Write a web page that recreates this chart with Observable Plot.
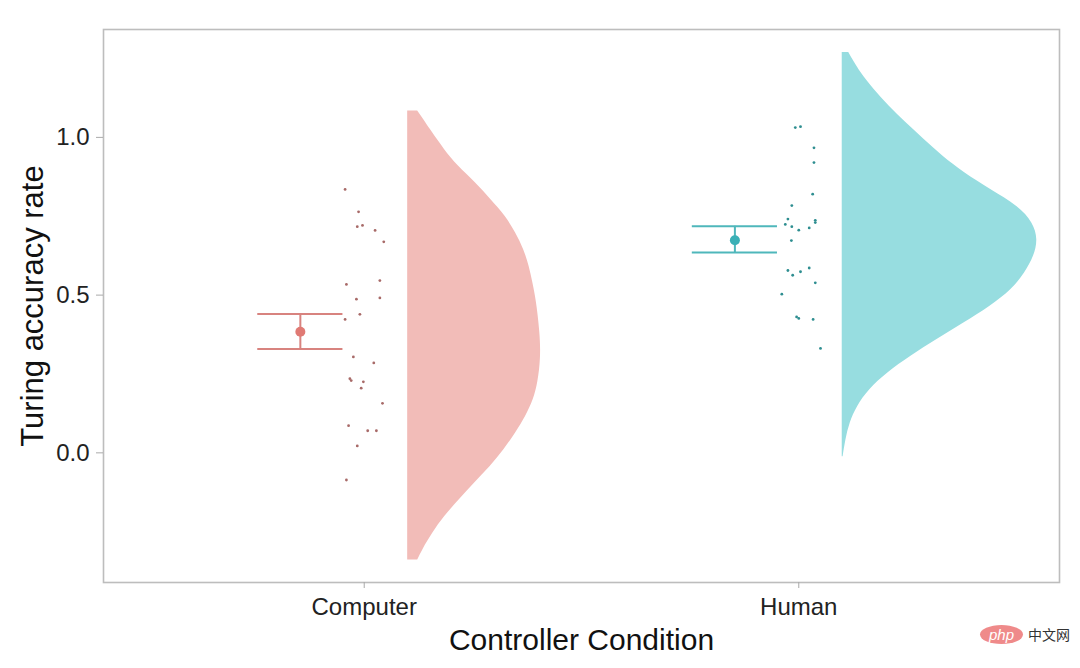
<!DOCTYPE html>
<html>
<head>
<meta charset="utf-8">
<script src="https://cdn.jsdelivr.net/npm/d3@7"></script>
<script src="https://cdn.jsdelivr.net/npm/@observablehq/plot@0.6"></script>
<style>
  html, body { margin: 0; padding: 0; background: #fff; }
  #wrap { position: relative; width: 1080px; height: 668px; }
  #wm { position: absolute; left: 980px; top: 624px; display: flex; align-items: center; font-family: "Noto Sans CJK SC", sans-serif; }
  #wm .logo { width: 43px; height: 19px; border-radius: 50%; background: #ef8a8a; color: #fff; font: italic 15px "Liberation Sans", Arial, sans-serif; display: flex; align-items: center; justify-content: center; }
  #wm .cn { margin-left: 5px; font-size: 14px; color: #333; }
</style>
</head>
<body>
<div id="wrap"><div id="chart"></div><div id="wm"><span class="logo">php</span><span class="cn">中文网</span></div></div>
<script>
const categories = ["Computer", "Human"];
const yTicks = [0, 0.5, 1.0];

// individual participant accuracy rates and horizontal jitter
const computerValues = [0.835, 0.764, 0.717, 0.721, 0.705, 0.669, 0.534, 0.546, 0.487, 0.491, 0.439, 0.423,
  0.304, 0.285, 0.235, 0.229, 0.225, 0.205, 0.157, 0.086, 0.070, 0.070, 0.022, -0.086];
const computerJitter = [-0.044, -0.013, -0.016, -0.004, 0.025, 0.045, -0.041, 0.036, -0.018, 0.036, -0.010, -0.044,
  -0.025, 0.022, -0.033, -0.030, -0.002, -0.007, 0.042, -0.036, 0.008, 0.028, -0.016, -0.041];
const humanValues = [1.031, 1.034, 0.967, 0.920, 0.820, 0.784, 0.741, 0.737, 0.730, 0.724, 0.717, 0.713,
  0.706, 0.673, 0.578, 0.563, 0.574, 0.586, 0.539, 0.503, 0.431, 0.426, 0.423, 0.331];
const humanJitter = [-0.008, 0.004, 0.035, 0.035, 0.032, -0.016, -0.025, 0.038, 0.038, -0.031, -0.016, 0.024,
  0.000, -0.017, -0.025, -0.014, 0.004, 0.024, 0.038, -0.039, -0.005, 0.000, 0.033, 0.050];

// mean and error bar bounds per condition
const meanValues = [0.384, 0.674];
const lowerValues = [0.329, 0.635];
const upperValues = [0.440, 0.718];

// half-violin outlines (value, density width)
const computerViolinY = [1.084, 1.015, 0.962, 0.909, 0.856, 0.803, 0.750, 0.697, 0.644, 0.591, 0.539, 0.486,
  0.380, 0.301, 0.221, 0.168, 0.115, 0.063, 0.010, -0.043, -0.096, -0.149, -0.202, -0.255, -0.308, -0.340];
const computerViolinWidth = [0.023, 0.057, 0.084, 0.115, 0.157, 0.191, 0.226, 0.249, 0.268, 0.280, 0.288, 0.296,
  0.305, 0.307, 0.300, 0.290, 0.272, 0.249, 0.222, 0.191, 0.153, 0.119, 0.084, 0.057, 0.034, 0.023];
const humanViolinY = [1.269, 1.205, 1.152, 1.099, 1.047, 0.994, 0.941, 0.888, 0.835, 0.782, 0.729, 0.676,
  0.623, 0.570, 0.517, 0.464, 0.412, 0.359, 0.306, 0.253, 0.200, 0.147, 0.094, 0.041, -0.012];
const humanViolinWidth = [0.015, 0.042, 0.073, 0.107, 0.146, 0.188, 0.230, 0.280, 0.341, 0.406, 0.440, 0.451,
  0.442, 0.421, 0.391, 0.341, 0.280, 0.218, 0.157, 0.103, 0.061, 0.034, 0.017, 0.008, 0.002];

const violinFill = ["#F2BCB8", "#97DDE0"];
const barColor = ["#D8837F", "#4FB7BB"];
const dotColor = ["#E07A74", "#3AB0B6"];
const pointColor = ["#A86A68", "#2E8E90"];

const violinOffset = 0.1, barOffset = -0.147, capHalf = 0.098;

const violins = [
  computerViolinY.map((v, i) => ({c: 1, v, w: computerViolinWidth[i]})),
  humanViolinY.map((v, i) => ({c: 2, v, w: humanViolinWidth[i]}))
];
const points = [
  ...computerValues.map((v, i) => ({c: 1, j: computerJitter[i], v})),
  ...humanValues.map((v, i) => ({c: 2, j: humanJitter[i], v}))
];
const stats = categories.map((name, i) => ({c: i + 1, name, m: meanValues[i], lo: lowerValues[i], hi: upperValues[i]}));
const caps = stats.flatMap(s => [{c: s.c, y: s.lo}, {c: s.c, y: s.hi}]);

const chart = Plot.plot({
  width: 1080,
  height: 668,
  marginLeft: 103,
  marginRight: 21,
  marginTop: 29,
  marginBottom: 86,
  style: {fontFamily: "'Liberation Sans', Arial, sans-serif", background: "#fff", color: "#222"},
  x: {domain: [0.4, 2.6]},
  y: {domain: [-0.411, 1.342]},
  marks: [
    ...violins.map((data, k) => Plot.areaX(data, {
      y: "v",
      x1: d => d.c + violinOffset,
      x2: d => d.c + violinOffset + d.w,
      fill: violinFill[k],
      curve: "basis"
    })),
    Plot.dot(points, {x: d => d.c + d.j, y: "v", r: 1.4, fill: d => pointColor[d.c - 1], stroke: null}),
    Plot.ruleY(caps, {y: "y", x1: d => d.c + barOffset - capHalf, x2: d => d.c + barOffset + capHalf, stroke: d => barColor[d.c - 1], strokeWidth: 2}),
    Plot.ruleX(stats, {x: d => d.c + barOffset, y1: "lo", y2: "hi", stroke: d => barColor[d.c - 1], strokeWidth: 2}),
    Plot.dot(stats, {x: d => d.c + barOffset, y: "m", r: 5, fill: d => dotColor[d.c - 1], stroke: null}),
    Plot.frame({stroke: "#BDBDBD", strokeWidth: 1.6}),
    Plot.axisY({ticks: yTicks, tickFormat: d3.format(".1f"), tickSize: 7, tickPadding: 7, fontSize: 24, stroke: "#AAAAAA", fill: "#222", label: null}),
    Plot.axisX({ticks: [1, 2], tickFormat: d => categories[d - 1], tickSize: 6, tickPadding: 9, fontSize: 24, stroke: "#AAAAAA", fill: "#222", label: null}),
    Plot.text(["Turing accuracy rate"], {frameAnchor: "left", rotate: -90, dx: -70, fontSize: 31, fill: "#111", lineAnchor: "middle", textAnchor: "middle"}),
    Plot.text(["Controller Condition"], {frameAnchor: "bottom", dy: 58, fontSize: 30, fill: "#111", lineAnchor: "middle", textAnchor: "middle"})
  ]
});
document.getElementById("chart").appendChild(chart);
</script>
</body>
</html>
